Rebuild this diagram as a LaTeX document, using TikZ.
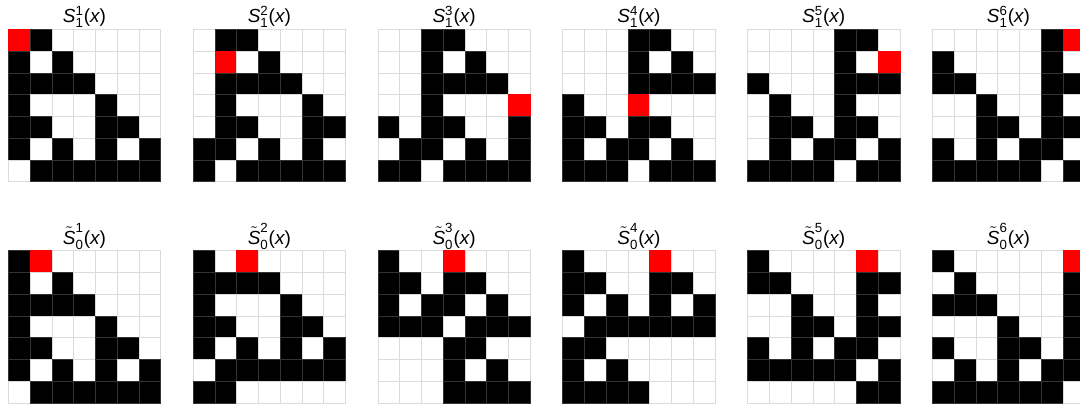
\documentclass[tikz,border=0pt]{standalone}
\usepackage{amsmath}
\usepackage{fontspec}
\setmainfont{Liberation Sans}

% one 7x7 board: #1,#2 = top left corner, #3 = rows (0 white, 1 black, 2 red)
\newcommand{\cellgrid}[3]{%
  \foreach \rowdata [count=\r] in {#3} {
    \foreach \v [count=\c] in \rowdata {
      \draw[c\v] ({#1+(\c-1)*21.77},{#2+(\r-1)*21.77}) rectangle ++(21.77,21.77);
    }
  }
}

\begin{document}
\begin{tikzpicture}[
  x=0.02cm, y=-0.02cm,
  c0/.style={fill=white, draw=black!14, line width=0.35pt},
  c1/.style={fill=black, draw=black!80, line width=0.35pt},
  c2/.style={fill=red, draw=red, line width=0.35pt},
  title/.style={anchor=base, inner sep=0pt, font=\fontsize{10.8}{12}\selectfont}
]
  \clip (0,0) rectangle (1080,407);

  % titles
  \foreach \k in {1,...,6} {
    \node[title] (t\k) at ({84.5+(\k-1)*184.8},22.7)
      {$\textit{S}^{\text{\k}}_{\text{1}}\text{(}\textit{x}\text{)}$};
    \node[title] (b\k) at ({84.5+(\k-1)*184.8},244.3)
      {$\tilde{\textit{S}}^{\text{\k}}_{\text{0}}\text{(}\textit{x}\text{)}$};
  }

  % top row
  \cellgrid{8.3}{29.3}{{2,1,0,0,0,0,0},{1,0,1,0,0,0,0},{1,1,1,1,0,0,0},{1,0,0,0,1,0,0},{1,1,0,0,1,1,0},{1,0,1,0,1,0,1},{0,1,1,1,1,1,1}}
  \cellgrid{193.1}{29.3}{{0,1,1,0,0,0,0},{0,2,0,1,0,0,0},{0,1,1,1,1,0,0},{0,1,0,0,0,1,0},{0,1,1,0,0,1,1},{1,1,0,1,0,1,0},{1,0,1,1,1,1,1}}
  \cellgrid{377.9}{29.3}{{0,0,1,1,0,0,0},{0,0,1,0,1,0,0},{0,0,1,1,1,1,0},{0,0,1,0,0,0,2},{1,0,1,1,0,0,1},{0,1,1,0,1,0,1},{1,1,0,1,1,1,1}}
  \cellgrid{562.7}{29.3}{{0,0,0,1,1,0,0},{0,0,0,1,0,1,0},{0,0,0,1,1,1,1},{1,0,0,2,0,0,0},{1,1,0,1,1,0,0},{1,0,1,1,0,1,0},{1,1,1,0,1,1,1}}
  \cellgrid{747.5}{29.3}{{0,0,0,0,1,1,0},{0,0,0,0,1,0,2},{1,0,0,0,1,1,1},{0,1,0,0,1,0,0},{0,1,1,0,1,1,0},{0,1,0,1,1,0,1},{1,1,1,1,0,1,1}}
  \cellgrid{932.3}{29.3}{{0,0,0,0,0,1,2},{1,0,0,0,0,1,0},{1,1,0,0,0,1,1},{0,0,1,0,0,1,0},{0,0,1,1,0,1,1},{1,0,1,0,1,1,0},{1,1,1,1,1,0,1}}

  % bottom row
  \cellgrid{8.3}{250.7}{{1,2,0,0,0,0,0},{1,0,1,0,0,0,0},{1,1,1,1,0,0,0},{1,0,0,0,1,0,0},{1,1,0,0,1,1,0},{1,0,1,0,1,0,1},{0,1,1,1,1,1,1}}
  \cellgrid{193.1}{250.7}{{1,0,2,0,0,0,0},{1,1,1,1,0,0,0},{1,0,0,0,1,0,0},{1,1,0,0,1,1,0},{1,0,1,0,1,0,1},{0,1,1,1,1,1,1},{1,1,0,0,0,0,0}}
  \cellgrid{377.9}{250.7}{{1,0,0,2,0,0,0},{1,1,0,1,1,0,0},{1,0,1,1,0,1,0},{1,1,1,0,1,1,1},{0,0,0,1,1,0,0},{0,0,0,1,0,1,0},{0,0,0,1,1,1,1}}
  \cellgrid{562.7}{250.7}{{1,0,0,0,2,0,0},{1,1,0,0,1,1,0},{1,0,1,0,1,0,1},{0,1,1,1,1,1,1},{1,1,0,0,0,0,0},{1,0,1,0,0,0,0},{1,1,1,1,0,0,0}}
  \cellgrid{747.5}{250.7}{{1,0,0,0,0,2,0},{1,1,0,0,0,1,1},{0,0,1,0,0,1,0},{0,0,1,1,0,1,1},{1,0,1,0,1,1,0},{1,1,1,1,1,0,1},{0,0,0,0,0,1,1}}
  \cellgrid{932.3}{250.7}{{1,0,0,0,0,0,2},{0,1,0,0,0,0,1},{1,1,1,0,0,0,1},{0,0,0,1,0,0,1},{1,0,0,1,1,0,1},{0,1,0,1,0,1,1},{1,1,1,1,1,1,0}}
\end{tikzpicture}
\end{document}
